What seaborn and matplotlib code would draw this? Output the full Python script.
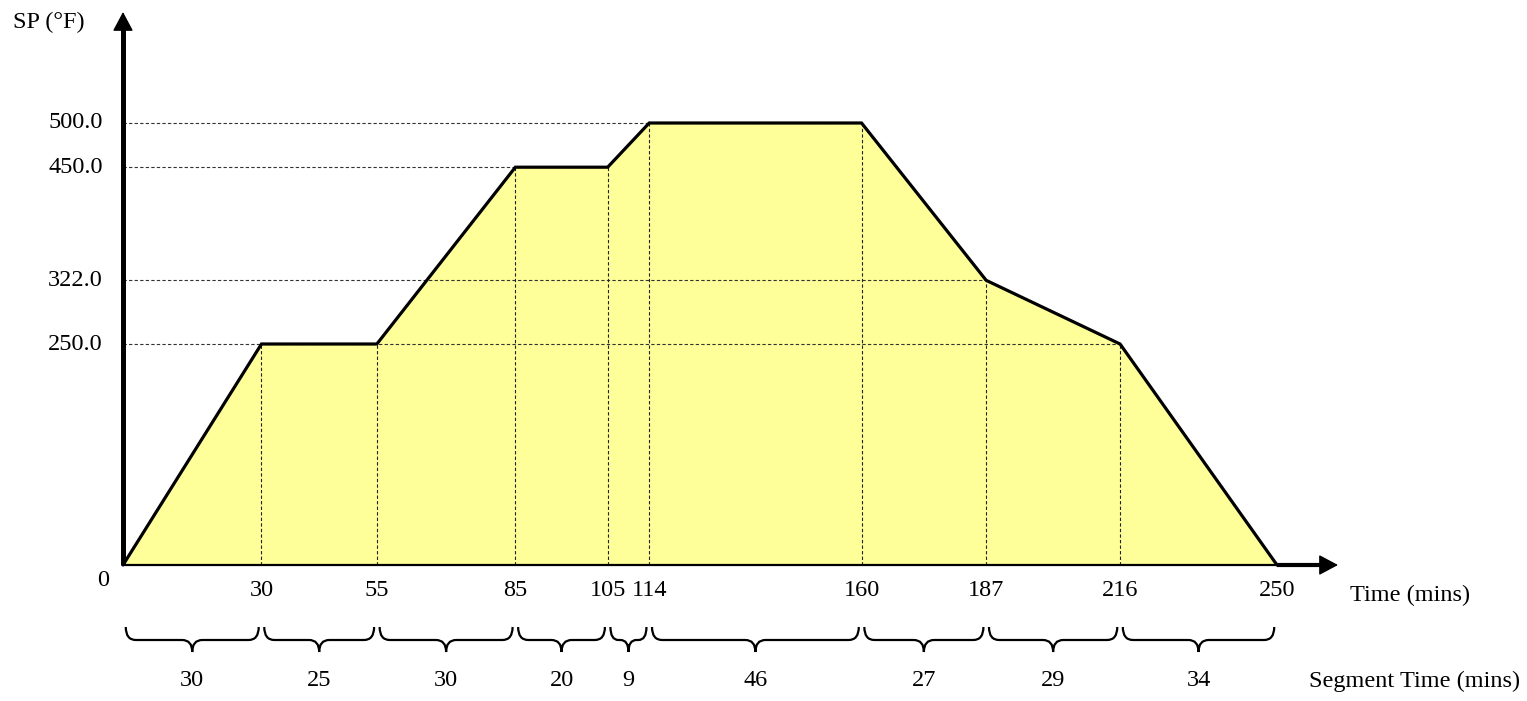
import numpy as np
import matplotlib
matplotlib.use("Agg")
import matplotlib.pyplot as plt
import seaborn as sns
from matplotlib.path import Path
from matplotlib.patches import PathPatch

# ---------------- data ----------------
times = [0, 30, 55, 85, 105, 114, 160, 187, 216, 250]
setpoints = [0, 250, 250, 450, 450, 500, 500, 322, 250, 0]
y_levels = [250.0, 322.0, 450.0, 500.0]
y_tick_labels = ["250.0", "322.0", "450.0", "500.0"]
x_tick_labels = ["30", "55", "85", "105", "114", "160", "187", "216", "250"]
segment_times = [30, 25, 30, 20, 9, 46, 27, 29, 34]

# ---------------- layout ----------------
W, H = 1527, 701
X0_PX, Y0_PX = 123, 565          # origin position in pixels (from top-left)
PX_PER_MIN = (1277 - 123) / 250.0
PX_PER_DEG = (565 - 123) / 500.0


def px_x(px):
    return (px - X0_PX) / PX_PER_MIN


def px_y(py):
    return (Y0_PX - py) / PX_PER_DEG


sns.set_theme(style="white")
plt.rcParams["font.family"] = ["Liberation Serif", "DejaVu Serif"]
FS = 17.5

fig = plt.figure(figsize=(W / 100, H / 100), dpi=100)
ax = fig.add_axes([0, 0, 1, 1])
ax.axis("off")

# fill and profile
ax.fill_between(times, setpoints, 0, color="#FFFF99", lw=0, zorder=1)
sns.lineplot(x=times, y=setpoints, color="black", lw=2.3, ax=ax, zorder=4,
             solid_joinstyle="miter")

dash = (0, (3, 2))
# horizontal dashed reference lines
for lvl in y_levels:
    xmax = max(t for t, s in zip(times, setpoints) if s == lvl)
    ax.plot([0, xmax], [lvl, lvl], color="#333333", lw=0.8, ls=dash, zorder=2)
# vertical dashed lines at each knee
for t, s in zip(times[1:-1], setpoints[1:-1]):
    ax.plot([t, t], [0, s], color="#222222", lw=0.8, ls=dash, zorder=2)

# axes lines and arrows
x_end = px_x(1338)
y_end = px_y(12)
ax.plot([0, times[-1]], [0, 0], color="black", lw=1.6, zorder=5, solid_capstyle="butt")
ax.plot([times[-1], x_end - 2], [0, 0], color="black", lw=3.0, zorder=5, solid_capstyle="butt")
ax.annotate("", xy=(x_end, 0), xytext=(x_end - 4, 0),
            arrowprops=dict(arrowstyle="-|>,head_length=0.6,head_width=0.32",
                            mutation_scale=20, lw=1, color="black",
                            shrinkA=0, shrinkB=0), zorder=6)
ax.plot([0, 0], [0, y_end - 15], color="black", lw=3.6, zorder=5, solid_capstyle="butt")
ax.annotate("", xy=(0, y_end), xytext=(0, y_end - 20),
            arrowprops=dict(arrowstyle="-|>,head_length=0.6,head_width=0.32",
                            mutation_scale=20, lw=1, color="black",
                            shrinkA=0, shrinkB=0), zorder=6)

# tick labels
for lvl, lab in zip(y_levels, y_tick_labels):
    ax.text(px_x(103), lvl, lab, ha="right", va="center", fontsize=FS, color="black")
for t, lab in zip(times[1:], x_tick_labels):
    ax.text(t, px_y(590), lab, ha="center", va="center", fontsize=FS, color="black")
ax.text(px_x(103), px_y(580), "0", ha="center", va="center", fontsize=FS, color="black")

# axis titles
ax.text(px_x(49), px_y(22), "SP (°F)", ha="center", va="center", fontsize=FS, color="black")
ax.text(px_x(1350), px_y(595), "Time (mins)", ha="left", va="center", fontsize=FS, color="black")
ax.text(px_x(1309), px_y(681), "Segment Time (mins)", ha="left", va="center",
        fontsize=FS, color="black")

# braces for segments
yt, ym, yb = px_y(627), px_y(640), px_y(652)
starts = np.cumsum([0] + segment_times[:-1])
for s0, seg in zip(starts, segment_times):
    x0, x1 = s0 + 0.6, s0 + seg - 0.6
    xc = (x0 + x1) / 2
    r = min(2.2, (x1 - x0) / 4.5)
    verts = [(x0, yt), (x0, ym), (x0 + r, ym), (xc - r, ym), (xc, ym), (xc, yb),
             (xc, ym), (xc + r, ym), (x1 - r, ym), (x1, ym), (x1, yt)]
    codes = [Path.MOVETO, Path.CURVE3, Path.CURVE3, Path.LINETO, Path.CURVE3, Path.CURVE3,
             Path.CURVE3, Path.CURVE3, Path.LINETO, Path.CURVE3, Path.CURVE3]
    ax.add_patch(PathPatch(Path(verts, codes), fill=False, lw=1.6, color="black", zorder=5))
    ax.text(s0 + seg / 2, px_y(680), str(seg), ha="center", va="center",
            fontsize=FS, color="black")

ax.set_xlim(px_x(0), px_x(W))
ax.set_ylim(px_y(H), px_y(0))
if ax.get_legend():
    ax.get_legend().remove()

fig.savefig("out.png", dpi=100)
